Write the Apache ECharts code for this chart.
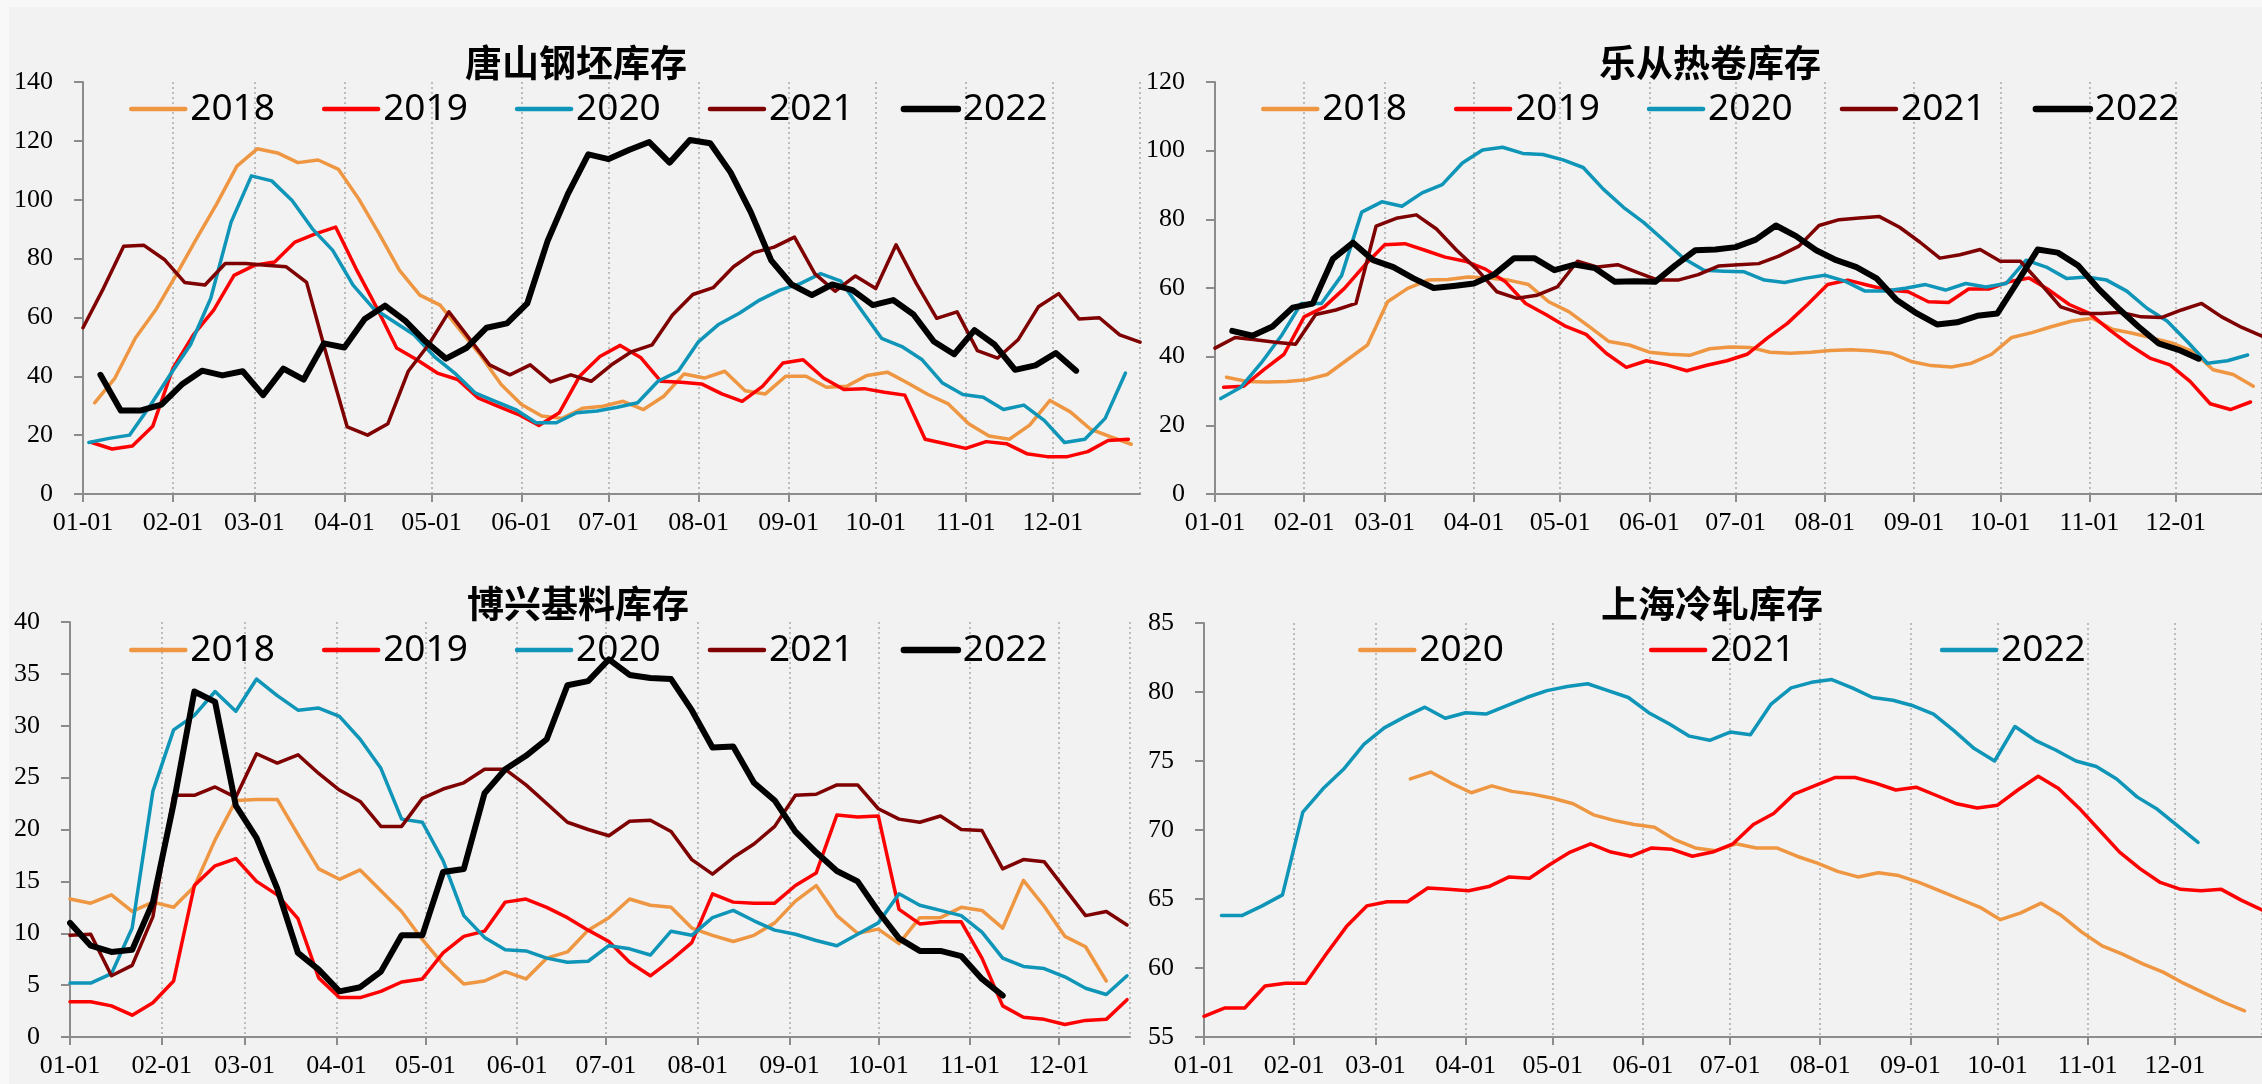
<!DOCTYPE html>
<html>
<head>
<meta charset="utf-8">
<script src="https://cdn.jsdelivr.net/npm/echarts@6/dist/echarts.min.js"></script>
<style>
    html,body{margin:0;padding:0;background:#f8f8f8;overflow:hidden;}
    .bg{position:absolute;left:9px;top:7px;width:2253px;height:1077px;background:#f2f2f2;}
    .chart{position:absolute;left:0;top:0;width:2262px;height:1084px;}
</style>
</head>
<body>
<div class="bg"></div>
<div class="chart" id="Tangshan"></div>
<div class="chart" id="Lecong"></div>
<div class="chart" id="Boxing"></div>
<div class="chart" id="Shanghai"></div>
<script>
// 唐山钢坯库存 (周度)
const ts2018 = [31.0, 39.4, 52.9, 62.5, 74.3, 86.6, 98.5, 111.4, 117.3, 115.9, 112.6, 113.5, 110.3, 100.2, 88.4, 76.0, 67.6, 64.2, 55.5, 47.0, 37.2, 30.4, 26.5, 25.7, 29.1, 29.8, 31.5, 28.7, 33.2, 40.8, 39.4, 41.7, 35.1, 34.0, 40.0, 40.0, 36.3, 36.6, 40.3, 41.4, 37.7, 33.8, 30.6, 23.9, 19.7, 18.6, 23.4, 31.8, 27.9, 22.0, 19.4, 16.9];
const ts2019 = [17.5, 15.3, 16.3, 23.0, 42.8, 54.1, 62.5, 74.3, 77.7, 78.8, 85.6, 88.4, 90.7, 76.6, 63.6, 49.6, 45.6, 41.1, 38.9, 32.7, 29.8, 27.0, 23.3, 27.6, 40.0, 46.7, 50.5, 46.4, 38.3, 38.0, 37.4, 34.0, 31.5, 36.6, 44.5, 45.6, 39.4, 35.5, 35.8, 34.6, 33.6, 18.6, 17.1, 15.5, 17.8, 17.1, 13.7, 12.7, 12.7, 14.4, 18.2, 18.6];
const ts2020 = [17.5, 18.9, 20.0, 29.8, 40.5, 50.7, 66.5, 92.4, 108.1, 106.4, 99.7, 90.1, 82.8, 71.0, 63.1, 58.6, 54.1, 46.7, 41.1, 34.4, 31.5, 28.7, 24.2, 24.2, 27.6, 28.2, 29.5, 31.0, 38.3, 41.7, 51.8, 57.7, 61.4, 65.9, 69.3, 71.5, 74.9, 72.3, 62.5, 52.9, 50.1, 45.6, 37.7, 33.8, 32.9, 28.7, 30.2, 25.0, 17.5, 18.6, 25.7, 41.1];
const ts2021 = [56.5, 69.8, 84.2, 84.5, 79.7, 71.9, 71.0, 78.3, 78.3, 77.7, 77.2, 71.9, 46.7, 22.8, 20.0, 23.9, 41.7, 50.7, 61.9, 52.9, 43.9, 40.5, 43.9, 38.1, 40.5, 38.3, 43.9, 48.4, 50.7, 60.8, 67.8, 70.1, 77.2, 82.0, 83.9, 87.3, 74.9, 68.9, 74.1, 69.8, 84.7, 71.5, 59.7, 61.9, 48.7, 46.2, 52.4, 63.6, 68.1, 59.5, 59.9, 54.1, 51.6];
const ts2022 = [40.5, 28.4, 28.4, 30.4, 37.2, 41.9, 40.3, 41.7, 33.6, 42.6, 38.9, 51.2, 49.8, 59.5, 64.0, 58.8, 51.8, 46.0, 49.6, 56.5, 58.0, 64.8, 86.0, 102.0, 115.4, 113.8, 116.9, 119.6, 112.6, 120.3, 119.2, 109.3, 95.7, 79.4, 71.2, 67.6, 71.2, 69.3, 64.2, 65.9, 61.0, 51.8, 47.5, 55.7, 50.7, 42.2, 43.7, 47.9, 41.9];

// 乐从热卷库存
const lc2018 = [34.0, 32.8, 32.6, 32.8, 33.3, 34.8, 39.1, 43.4, 56.0, 59.9, 62.3, 62.5, 63.2, 62.9, 62.3, 61.0, 56.0, 53.1, 48.8, 44.4, 43.4, 41.3, 40.7, 40.4, 42.3, 42.8, 42.7, 41.3, 41.0, 41.3, 41.8, 42.0, 41.7, 41.0, 38.6, 37.4, 37.0, 38.1, 40.7, 45.6, 47.0, 48.8, 50.4, 51.2, 48.0, 46.8, 45.4, 43.9, 41.5, 36.2, 34.8, 31.4];
const lc2019 = [31.1, 31.4, 36.2, 40.7, 51.6, 54.5, 59.9, 66.6, 72.6, 72.9, 71.0, 69.0, 67.8, 65.5, 61.8, 55.5, 52.3, 48.8, 46.5, 41.0, 36.9, 38.8, 37.6, 35.9, 37.5, 38.8, 40.7, 45.4, 49.7, 55.2, 61.0, 62.3, 60.8, 59.4, 58.9, 56.0, 55.8, 59.7, 59.7, 61.8, 62.9, 59.4, 55.2, 52.6, 47.8, 43.4, 39.6, 37.6, 32.8, 26.3, 24.6, 26.8];
const lc2020 = [27.8, 31.1, 38.1, 46.0, 55.5, 55.5, 63.6, 82.1, 85.1, 83.8, 87.7, 90.1, 96.4, 100.2, 101.0, 99.2, 98.9, 97.3, 95.1, 88.8, 83.5, 79.1, 73.9, 68.6, 65.2, 64.9, 64.7, 62.3, 61.6, 62.8, 63.7, 62.0, 59.1, 59.1, 59.9, 61.0, 59.4, 61.3, 60.3, 61.3, 68.1, 66.1, 62.8, 63.2, 62.3, 59.1, 54.1, 50.4, 44.4, 38.1, 38.8, 40.5];
const lc2021 = [42.5, 45.6, 44.9, 44.2, 43.6, 52.3, 53.6, 55.5, 78.0, 80.3, 81.3, 77.2, 71.0, 65.5, 58.9, 57.0, 57.9, 60.3, 67.8, 66.1, 66.8, 64.5, 62.3, 62.3, 63.9, 66.4, 66.8, 67.1, 69.3, 72.2, 78.2, 79.9, 80.4, 80.8, 77.7, 73.4, 68.7, 69.7, 71.2, 67.8, 67.8, 61.3, 54.5, 52.6, 52.6, 52.9, 51.6, 51.4, 53.6, 55.5, 51.6, 48.5, 46.0];
const lc2022 = [47.5, 46.1, 48.8, 54.3, 55.5, 68.5, 73.2, 68.1, 66.1, 62.8, 60.0, 60.6, 61.3, 63.9, 68.7, 68.7, 65.2, 66.8, 65.8, 61.8, 62.0, 61.8, 66.6, 71.0, 71.2, 71.9, 74.1, 78.2, 75.1, 71.0, 68.1, 66.1, 62.8, 56.5, 52.6, 49.4, 50.0, 51.9, 52.6, 61.8, 71.2, 70.3, 66.6, 59.9, 54.1, 48.8, 43.9, 42.0, 39.4];

// 博兴基料库存
const bx2018 = [13.3, 12.9, 13.7, 12.1, 13.0, 12.5, 14.5, 19.0, 22.8, 22.9, 22.9, 19.5, 16.2, 15.2, 16.1, 14.1, 12.1, 9.4, 7.0, 5.1, 5.4, 6.3, 5.6, 7.6, 8.2, 10.3, 11.5, 13.3, 12.7, 12.5, 10.5, 9.8, 9.2, 9.8, 11.0, 13.1, 14.6, 11.7, 10.0, 10.4, 9.0, 11.5, 11.5, 12.5, 12.2, 10.5, 15.1, 12.6, 9.7, 8.7, 5.4];
const bx2019 = [3.4, 3.4, 3.0, 2.1, 3.3, 5.4, 14.6, 16.5, 17.2, 15.0, 13.7, 11.4, 5.7, 3.8, 3.8, 4.4, 5.3, 5.6, 8.1, 9.7, 10.2, 13.0, 13.3, 12.5, 11.5, 10.3, 9.2, 7.2, 5.9, 7.4, 9.1, 13.8, 13.0, 12.9, 12.9, 14.6, 15.8, 21.4, 21.2, 21.3, 12.3, 10.9, 11.1, 11.1, 7.6, 3.0, 1.9, 1.7, 1.2, 1.6, 1.7, 3.6];
const bx2020 = [5.2, 5.2, 6.1, 10.5, 23.7, 29.6, 31.0, 33.3, 31.4, 34.5, 32.9, 31.5, 31.7, 30.9, 28.7, 25.9, 21.0, 20.7, 17.0, 11.7, 9.6, 8.4, 8.3, 7.6, 7.2, 7.3, 8.8, 8.5, 7.9, 10.2, 9.8, 11.5, 12.2, 11.2, 10.3, 9.9, 9.3, 8.8, 9.9, 11.0, 13.8, 12.7, 12.2, 11.7, 10.1, 7.6, 6.8, 6.6, 5.8, 4.7, 4.1, 5.9];
const bx2021 = [9.8, 9.9, 5.9, 6.9, 11.6, 23.3, 23.3, 24.1, 23.1, 27.3, 26.4, 27.2, 25.4, 23.8, 22.7, 20.3, 20.3, 23.0, 23.9, 24.5, 25.8, 25.8, 24.3, 22.5, 20.7, 20.0, 19.4, 20.8, 20.9, 19.8, 17.1, 15.7, 17.3, 18.6, 20.3, 23.3, 23.4, 24.3, 24.3, 22.0, 21.0, 20.7, 21.3, 20.0, 19.9, 16.2, 17.1, 16.9, 14.3, 11.7, 12.1, 10.8];
const bx2022 = [11.0, 8.8, 8.2, 8.4, 13.0, 22.5, 33.3, 32.3, 22.3, 19.2, 14.3, 8.1, 6.5, 4.4, 4.8, 6.3, 9.8, 9.8, 15.9, 16.2, 23.5, 25.8, 27.1, 28.7, 33.9, 34.3, 36.4, 34.9, 34.6, 34.5, 31.5, 27.9, 28.0, 24.5, 22.8, 19.8, 17.8, 16.0, 15.0, 12.1, 9.5, 8.3, 8.3, 7.8, 5.6, 4.0];

// 上海冷轧库存
const sh2020 = [73.7, 74.2, 73.4, 72.7, 73.2, 72.8, 72.6, 72.3, 71.9, 71.1, 70.7, 70.4, 70.2, 69.3, 68.7, 68.5, 69.0, 68.7, 68.7, 68.1, 67.6, 67.0, 66.6, 66.9, 66.7, 66.2, 65.6, 65.0, 64.4, 63.5, 64.0, 64.7, 63.8, 62.6, 61.6, 61.0, 60.3, 59.7, 58.9, 58.2, 57.5, 56.9];
const sh2021 = [56.5, 57.1, 57.1, 58.7, 58.9, 58.9, 61.0, 63.0, 64.5, 64.8, 64.8, 65.8, 65.7, 65.6, 65.9, 66.6, 66.5, 67.5, 68.4, 69.0, 68.4, 68.1, 68.7, 68.6, 68.1, 68.4, 69.0, 70.4, 71.2, 72.6, 73.2, 73.8, 73.8, 73.4, 72.9, 73.1, 72.5, 71.9, 71.6, 71.8, 72.9, 73.9, 73.0, 71.6, 70.0, 68.4, 67.2, 66.2, 65.7, 65.6, 65.7, 64.9, 64.2];
const sh2022 = [63.8, 63.8, 64.5, 65.3, 71.3, 73.0, 74.4, 76.2, 77.4, 78.2, 78.9, 78.1, 78.5, 78.4, 79.0, 79.6, 80.1, 80.4, 80.6, 80.1, 79.6, 78.5, 77.7, 76.8, 76.5, 77.1, 76.9, 79.1, 80.3, 80.7, 80.9, 80.3, 79.6, 79.4, 79.0, 78.4, 77.2, 75.9, 75.0, 77.5, 76.5, 75.8, 75.0, 74.6, 73.7, 72.4, 71.5, 70.3, 69.1];

// 每年第一个周度数据的日期
const startTS = {'2018':'01-05', '2019':'01-04', '2020':'01-03', '2021':'01-01', '2022':'01-07'};
const startBX = {'2018':'01-01', '2019':'01-01', '2020':'01-01', '2021':'01-01', '2022':'01-01'};
const startSH = {'2020':'03-13', '2021':'01-01', '2022':'01-07'};

const ORANGE = '#EF9643', RED = '#FF0000', TEAL = '#0E95B8', DARK = '#7F0000', BLACK = '#000000';

// 放到同一年(2021)的时间轴上
function weekly(start, vals){
    let p = start.split('-');
    let t0 = Date.UTC(2021, +p[0] - 1, +p[1]);
    return vals.map((v, i) => [t0 + i * 7 * 86400000, v]);
}

function getChartLine(id, cfg){
    var myChart = echarts.init(document.getElementById(id));
    // 图例线宽: 黑线粗一些
    let legendData = cfg.series.map(s => ({
        name: s.name,
        lineStyle: {width: s.width > 5 ? 6.5 : 4.5, cap: 'round'}
    }));
    myChart.setOption({
        useUTC: true,
        animation: false,
        title: {
            text: cfg.title,
            left: cfg.titleLeft,
            top: cfg.titleTop,
            textStyle: {
                fontFamily: 'Noto Sans CJK SC',
                fontWeight: 'bold',
                fontSize: 37,
                color: '#000'
            }
        },
        legend: {
            left: cfg.legendLeft,
            top: cfg.legendTop,
            itemWidth: 54,
            itemHeight: 14,
            itemGap: cfg.legendGap,
            itemStyle: {opacity: 0, color: 'transparent', borderWidth: 0},
            lineStyle: {width: 4.5},
            textStyle: {
                fontFamily: 'Noto Sans',
                fontSize: 37,
                lineHeight: 40,
                color: '#000'
            },
            data: legendData
        },
        grid: {
            left: cfg.grid[0],
            top: cfg.grid[1],
            width: cfg.grid[2],
            height: cfg.grid[3]
        },
        xAxis: {
            type: 'time',
            min: Date.UTC(2021, 0, 1),
            max: cfg.xMax,
            splitNumber: 12,
            axisLine: {lineStyle: {color: '#8c8c8c', width: 2}},
            axisTick: {show: true, length: 8, lineStyle: {color: '#8c8c8c', width: 2}},
            axisLabel: {
                formatter: '{MM}-{dd}',
                showMaxLabel: false,
                fontFamily: 'Liberation Serif',
                fontSize: 26,
                color: '#000',
                margin: 16
            },
            splitLine: {show: true, lineStyle: {type: [2, 3], color: '#aaaaaa', width: 1.5}}
        },
        yAxis: {
            type: 'value',
            min: cfg.yMin,
            max: cfg.yMax,
            interval: cfg.yStep,
            axisLine: {show: true, lineStyle: {color: '#8c8c8c', width: 2}},
            axisTick: {show: true, length: 9, lineStyle: {color: '#8c8c8c', width: 2}},
            splitLine: {show: false},
            axisLabel: {
                fontFamily: 'Liberation Serif',
                fontSize: 26,
                color: '#000',
                margin: 30
            }
        },
        series: cfg.series.map(s => ({
            name: s.name,
            type: 'line',
            symbol: 'none',
            color: s.color,
            lineStyle: {color: s.color, width: s.width, join: 'round', cap: 'round'},
            data: weekly(s.start, s.data)
        }))
    });
}

getChartLine('Tangshan', {
    title: '唐山钢坯库存', titleLeft: 460, titleTop: 39,
    legendLeft: 124, legendTop: 84, legendGap: 47,
    grid: [83, 82, 1057, 412], xMax: Date.UTC(2021, 11, 31),
    yMin: 0, yMax: 140, yStep: 20,
    series: [
        {name: '2018', color: ORANGE, width: 3.5, start: startTS['2018'], data: ts2018},
        {name: '2019', color: RED, width: 3.5, start: startTS['2019'], data: ts2019},
        {name: '2020', color: TEAL, width: 3.5, start: startTS['2020'], data: ts2020},
        {name: '2021', color: DARK, width: 3.5, start: startTS['2021'], data: ts2021},
        {name: '2022', color: BLACK, width: 6, start: startTS['2022'], data: ts2022}
    ]
});

getChartLine('Lecong', {
    title: '乐从热卷库存', titleLeft: 1594, titleTop: 39,
    legendLeft: 1256, legendTop: 84, legendGap: 47,
    grid: [1215, 82, 1057, 412], xMax: Date.UTC(2021, 11, 31),
    yMin: 0, yMax: 120, yStep: 20,
    series: [
        {name: '2018', color: ORANGE, width: 3.5, start: startTS['2018'], data: lc2018},
        {name: '2019', color: RED, width: 3.5, start: startTS['2019'], data: lc2019},
        {name: '2020', color: TEAL, width: 3.5, start: startTS['2020'], data: lc2020},
        {name: '2021', color: DARK, width: 3.5, start: startTS['2021'], data: lc2021},
        {name: '2022', color: BLACK, width: 6, start: startTS['2022'], data: lc2022}
    ]
});

getChartLine('Boxing', {
    title: '博兴基料库存', titleLeft: 462, titleTop: 580,
    legendLeft: 124, legendTop: 625, legendGap: 47,
    grid: [70, 622, 1060, 415], xMax: Date.UTC(2021, 11, 25),
    yMin: 0, yMax: 40, yStep: 5,
    series: [
        {name: '2018', color: ORANGE, width: 3.5, start: startBX['2018'], data: bx2018},
        {name: '2019', color: RED, width: 3.5, start: startBX['2019'], data: bx2019},
        {name: '2020', color: TEAL, width: 3.5, start: startBX['2020'], data: bx2020},
        {name: '2021', color: DARK, width: 3.5, start: startBX['2021'], data: bx2021},
        {name: '2022', color: BLACK, width: 6, start: startBX['2022'], data: bx2022}
    ]
});

getChartLine('Shanghai', {
    title: '上海冷轧库存', titleLeft: 1596, titleTop: 580,
    legendLeft: 1353, legendTop: 625, legendGap: 145,
    grid: [1204, 623, 1058, 414], xMax: Date.UTC(2021, 11, 31),
    yMin: 55, yMax: 85, yStep: 5,
    series: [
        {name: '2020', color: ORANGE, width: 3.5, start: startSH['2020'], data: sh2020},
        {name: '2021', color: RED, width: 3.5, start: startSH['2021'], data: sh2021},
        {name: '2022', color: TEAL, width: 3.5, start: startSH['2022'], data: sh2022}
    ]
});
</script>
</body>
</html>
